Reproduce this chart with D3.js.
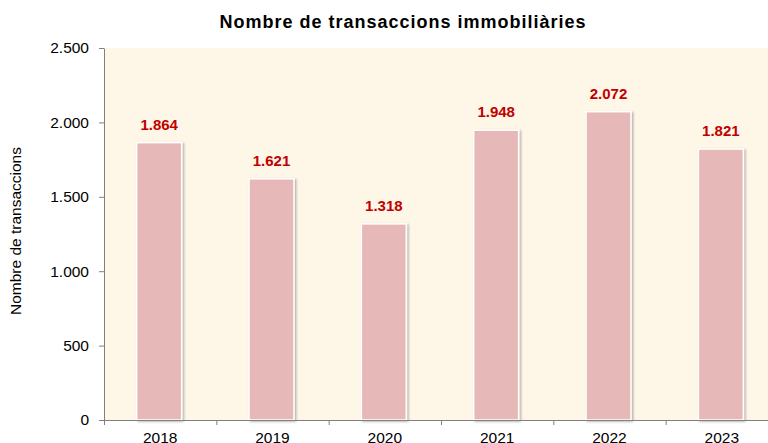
<!DOCTYPE html>
<html>
<head>
<meta charset="utf-8">
<script src="https://cdn.jsdelivr.net/npm/d3@7"></script>
<style>
  body { margin: 0; background: #fff; }
  svg { display: block; font-family: "Liberation Sans", Arial, sans-serif; }
</style>
</head>
<body>
<svg id="chart" width="768" height="443"></svg>
<script>
// data
const years = ["2018", "2019", "2020", "2021", "2022", "2023"];
const transactions = [1864, 1621, 1318, 1948, 2072, 1821];
const yTicks = [0, 500, 1000, 1500, 2000, 2500];

const svg = d3.select("#chart");
const plotLeft = 104, plotRight = 778, plotTop = 48, plotBottom = 420;

// thousands with a dot, like 1.864
const fmt = d => d3.format(",")(d).replace(/,/g, ".");

const x = d3.scaleBand()
    .domain(years)
    .range([plotLeft, plotRight])
    .paddingInner(0.6)
    .paddingOuter(0.3);

const y = d3.scaleLinear()
    .domain([0, 2500])
    .range([plotBottom, plotTop]);

// soft shadow for the bars
const defs = svg.append("defs");
const f = defs.append("filter").attr("id", "shadow")
    .attr("x", "-20%").attr("y", "-10%").attr("width", "140%").attr("height", "120%");
f.append("feDropShadow").attr("dx", 1.5).attr("dy", 1).attr("stdDeviation", 1)
    .attr("flood-color", "#000").attr("flood-opacity", 0.3);

// plot background
svg.append("rect")
    .attr("x", plotLeft).attr("y", plotTop)
    .attr("width", plotRight - plotLeft).attr("height", plotBottom - plotTop)
    .attr("fill", "#fef6e7");

// bars
svg.selectAll("rect.bar")
    .data(transactions)
    .enter()
    .append("rect")
    .attr("class", "bar")
    .attr("x", (d, i) => x(years[i]) - 1)
    .attr("y", d => y(d))
    .attr("width", x.bandwidth())
    .attr("height", d => y(0) - y(d))
    .attr("fill", "#e6b8b8")
    .attr("stroke", "#fff")
    .attr("stroke-width", 1.5)
    .attr("filter", "url(#shadow)");

// value labels
svg.selectAll("text.val")
    .data(transactions)
    .enter()
    .append("text")
    .attr("class", "val")
    .attr("x", (d, i) => x(years[i]) + x.bandwidth() / 2 - 1)
    .attr("y", d => y(d) - 13)
    .attr("text-anchor", "middle")
    .attr("font-size", 15)
    .attr("font-weight", "bold")
    .attr("fill", "#c00000")
    .text(d => fmt(d));

// y axis
const yAxis = d3.axisLeft(y).tickValues(yTicks).tickFormat(fmt).tickSize(5).tickSizeOuter(0);
const gy = svg.append("g")
    .attr("transform", `translate(${plotLeft},0)`)
    .call(yAxis);
gy.select(".domain").attr("stroke", "#808080");
gy.selectAll(".tick line").attr("stroke", "#808080");
gy.selectAll(".tick text").attr("font-size", 15.5).attr("fill", "#000")
    .attr("font-family", "Liberation Sans, Arial, sans-serif").attr("x", -15);

// x axis: ticks at category boundaries
const xBounds = d3.scaleLinear().domain([0, years.length]).range([plotLeft, plotRight]);
const gx = svg.append("g")
    .attr("transform", `translate(0,${plotBottom})`)
    .call(d3.axisBottom(xBounds).tickValues(d3.range(0, years.length + 1)).tickFormat("").tickSize(5).tickSizeOuter(0));
gx.select(".domain").attr("stroke", "#808080");
gx.selectAll(".tick line").attr("stroke", "#808080");

svg.selectAll("text.cat")
    .data(years)
    .enter()
    .append("text")
    .attr("class", "cat")
    .attr("x", d => x(d) + x.bandwidth() / 2)
    .attr("y", plotBottom + 23)
    .attr("text-anchor", "middle")
    .attr("font-size", 15.5)
    .attr("fill", "#000")
    .text(d => d);

// title
svg.append("text")
    .attr("x", 403).attr("y", 28)
    .attr("text-anchor", "middle")
    .attr("font-size", 18)
    .attr("font-weight", "bold")
    .attr("letter-spacing", 1)
    .text("Nombre de transaccions immobiliàries");

// y axis title
svg.append("text")
    .attr("transform", "translate(21,231) rotate(-90)")
    .attr("text-anchor", "middle")
    .attr("font-size", 15.5)
    .text("Nombre de transaccions");
</script>
</body>
</html>
